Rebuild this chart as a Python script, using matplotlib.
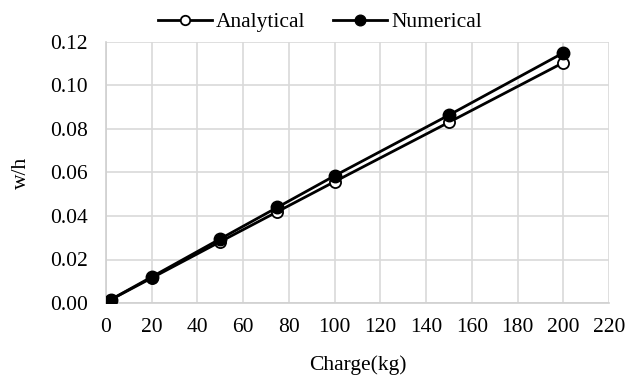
import matplotlib
matplotlib.use("Agg")
import matplotlib.pyplot as plt

plt.rcParams['font.family'] = ['Liberation Serif', 'DejaVu Serif']

charge = [2, 20, 50, 75, 100, 150, 200]
analytical = [0.0015, 0.0115, 0.0282, 0.042, 0.0558, 0.0831, 0.1105]
numerical = [0.0015, 0.0120, 0.0295, 0.0440, 0.0585, 0.0864, 0.1150]

fig = plt.figure(figsize=(6.27, 3.79), dpi=100)
ax = fig.add_axes([106/627, 1 - 303/379, (609-106)/627, (303-42)/379])

ax.plot(charge, analytical, color='black', lw=2, marker='o', ms=8,
        mfc='white', mec='black', mew=1.3, label='Analytical', zorder=3)
ax.plot(charge, numerical, color='black', lw=2, marker='o', ms=9,
        mfc='black', mec='black', label='Numerical', zorder=4)

ax.set_xlim(0, 220)
ax.set_ylim(0, 0.12)
ax.set_xticks(range(0, 221, 20))
ax.set_yticks([0, 0.02, 0.04, 0.06, 0.08, 0.10, 0.12])
ax.set_yticklabels(['%.2f' % v for v in ax.get_yticks()])
ax.grid(True, color='#d9d9d9', lw=1.2)
ax.set_axisbelow(True)
for s in ['top', 'right']:
    ax.spines[s].set_visible(False)
for s in ['left', 'bottom']:
    ax.spines[s].set_color('#d0d0d0')
    ax.spines[s].set_linewidth(1.2)
ax.tick_params(length=0, labelsize=15.5)
ax.tick_params(axis='x', pad=11)
ax.tick_params(axis='y', pad=13)
ax.set_xlabel('Charge(kg)', fontsize=15.5, labelpad=13)
ax.set_ylabel('w/h', fontsize=15.5, labelpad=14)

fig.legend(*ax.get_legend_handles_labels(), loc='center',
           bbox_to_anchor=(320/627, 1 - 22/379), ncol=2, frameon=False,
           fontsize=15.5, handlelength=2.5, columnspacing=1.3, handletextpad=0.2,
           markerscale=0.85, borderpad=0)

fig.savefig('out.png', dpi=100)
